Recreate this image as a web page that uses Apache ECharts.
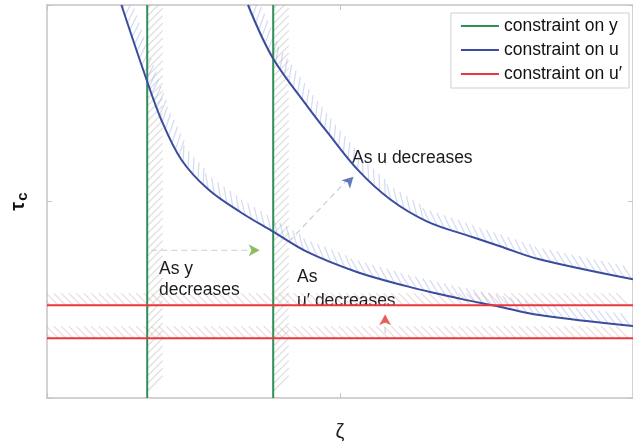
<!DOCTYPE html>
<html>
<head>
<meta charset="utf-8">
<script src="https://cdn.jsdelivr.net/npm/echarts@6/dist/echarts.min.js"></script>
<style>
  html, body { margin: 0; padding: 0; background: #fff; }
  #main { width: 633px; height: 447px; }
</style>
</head>
<body>
<div id="main"></div>
<script>
// constraint lines (axis runs 0..10 both ways)
var yConstraintX = [1.71, 3.86];          // green verticals
var uDotConstraintY = [2.36, 1.52];       // red horizontals

var uLowX = [1.27, 1.66, 1.95, 2.29, 2.75, 3.31, 3.85, 4.45, 5.30, 6.15, 6.71, 7.10, 7.67, 8.40, 10.0];
var uLowY = [10.0, 8.27, 7.08, 6.07, 5.31, 4.72, 4.24, 3.71, 3.20, 2.84, 2.64, 2.51, 2.34, 2.11, 1.83];

var uHighX = [3.43, 3.85, 4.45, 4.79, 5.30, 5.86, 6.49, 7.27, 7.73, 8.40, 10.0];
var uHighY = [10.0, 8.66, 7.41, 6.75, 5.81, 5.05, 4.49, 4.09, 3.86, 3.53, 3.02];

// dashed arrows: [x0, y0, x1, y1], arrow head at [x, y]
var yArrow = [1.78, 3.76, 3.56, 3.76];
var yArrowHead = [3.63, 3.76];
var uArrow = [4.13, 3.98, 5.14, 5.58];
var uArrowHead = [5.23, 5.63];
var uDotArrow = [5.77, 1.65, 5.77, 2.06];
var uDotArrowHead = [5.77, 2.13];

var GREEN = '#2f8f55', BLUE = '#3a4c9e', RED = '#e8383d';
var FONT = 'Liberation Sans, Helvetica, Arial, sans-serif';

var chart = echarts.init(document.getElementById('main'));

// short hatch strokes on one side of a polyline (pixel space via api.coord)
function hatch(xs, ys, color, len, step) {
    return {
        type: 'custom', coordinateSystem: 'cartesian2d', clip: true, silent: true, z: 1,
        data: [[0, 0]],
        renderItem: function (params, api) {
            var pts = xs.map(function (x, i) { return api.coord([x, ys[i]]); });
            var children = [];
            var carry = step / 2;
            for (var i = 0; i < pts.length - 1; i++) {
                var x0 = pts[i][0], y0 = pts[i][1];
                var dx = pts[i + 1][0] - x0, dy = pts[i + 1][1] - y0;
                var L = Math.sqrt(dx * dx + dy * dy);
                if (L === 0) continue;
                var ux = dx / L, uy = dy / L;
                var nx = uy, ny = -ux;
                var tx = 0.707 * (nx + ny), ty = 0.707 * (ny - nx);
                var d = carry;
                while (d <= L) {
                    var px = x0 + ux * d, py = y0 + uy * d;
                    children.push({
                        type: 'line',
                        shape: { x1: px, y1: py, x2: px + tx * len, y2: py + ty * len },
                        style: { stroke: color, lineWidth: 1.2 }
                    });
                    d += step;
                }
                carry = d - L;
            }
            return { type: 'group', children: children };
        }
    };
}

function line(name, xs, ys, color, smooth) {
    return {
        name: name, type: 'line', z: 3, showSymbol: false, smooth: smooth ? 0.35 : false,
        data: xs.map(function (x, i) { return [x, ys[i]]; }),
        lineStyle: { color: color, width: 2 }, itemStyle: { color: color }
    };
}

function dashed(a) {
    return {
        type: 'line', z: 2, showSymbol: false, silent: true,
        data: [[a[0], a[1]], [a[2], a[3]]],
        lineStyle: { color: '#cdcdcd', width: 1.2, type: [6, 4] }
    };
}

function head(p, color, rot) {
    return {
        type: 'scatter', z: 4, silent: true, symbol: 'arrow', symbolSize: [9, 11],
        symbolRotate: rot, data: [p], itemStyle: { color: color }
    };
}

var series = [];
yConstraintX.forEach(function (x) {
    series.push(hatch([x, x], [10, 0], 'rgba(160,160,160,0.35)', 22, 7.5));
    series.push(line('constraint on y', [x, x], [0, 10], GREEN));
});
series.push(hatch(uLowX, uLowY, 'rgba(130,150,220,0.35)', 16, 7.5));
series.push(hatch(uHighX, uHighY, 'rgba(130,150,220,0.35)', 16, 7.5));
series.push(line('constraint on u', uLowX, uLowY, BLUE, true));
series.push(line('constraint on u', uHighX, uHighY, BLUE, true));
uDotConstraintY.forEach(function (y) {
    series.push(hatch([0, 10], [y, y], 'rgba(205,160,160,0.35)', 17, 7.5));
    series.push(line('constraint on u\u2032', [0, 10], [y, y], RED));
});
series.push(dashed(yArrow), head(yArrowHead, '#6fae3c', -90));
series.push(dashed(uArrow), head(uArrowHead, '#3d5aa8', -45));
series.push(dashed(uDotArrow), head(uDotArrowHead, '#e53935', 0));

function axis(extra) {
    var a = {
        type: 'value', min: 0, max: 10, interval: 5,
        axisLine: { show: true, onZero: false, lineStyle: { color: '#c4c4c4', width: 1.5 } },
        axisTick: { show: true, inside: true, length: 5, lineStyle: { color: '#c4c4c4' } },
        axisLabel: { show: false },
        splitLine: { show: false }
    };
    return Object.assign(a, extra);
}

var txt = function (s, x, y) {
    return { type: 'text', x: x, y: y, style: { text: s, font: '17.5px ' + FONT, fill: '#1a1a1a', verticalAlign: 'middle' } };
};

chart.setOption({
    animation: false,
    grid: { left: 45, top: 5, right: -1, bottom: 48 },
    legend: {
        data: ['constraint on y', 'constraint on u', 'constraint on u\u2032'],
        orient: 'vertical', right: 4, top: 13,
        icon: 'rect', itemWidth: 38, itemHeight: 2, itemGap: 6,
        padding: [4, 7, 5, 10],
        borderColor: '#cfcfcf', borderWidth: 1, backgroundColor: '#fff',
        textStyle: { fontSize: 17.5, color: '#111', fontFamily: FONT }
    },
    xAxis: [
        axis({
            position: 'bottom', name: 'ζ', nameLocation: 'middle', nameGap: 24,
            nameTextStyle: { fontSize: 20, color: '#222', fontFamily: FONT }
        }),
        axis({ position: 'top' })
    ],
    yAxis: [
        axis({
            position: 'left', name: '{a|τ}{b|c}', nameLocation: 'middle', nameGap: 17, nameRotate: 90,
            nameTextStyle: {
                color: '#111', fontFamily: FONT,
                rich: {
                    a: { fontSize: 20, fontWeight: 'bold', color: '#111' },
                    b: { fontSize: 15, fontWeight: 'bold', color: '#111', padding: [9, 0, 0, 1] }
                }
            }
        }),
        axis({ position: 'right' })
    ],
    graphic: [
        txt('As u decreases', 352, 158),
        txt('As y', 159, 269),
        txt('decreases', 159, 290),
        txt('As', 297, 277),
        txt('u\u2032 decreases', 297, 301)
    ],
    series: series
});
</script>
</body>
</html>
